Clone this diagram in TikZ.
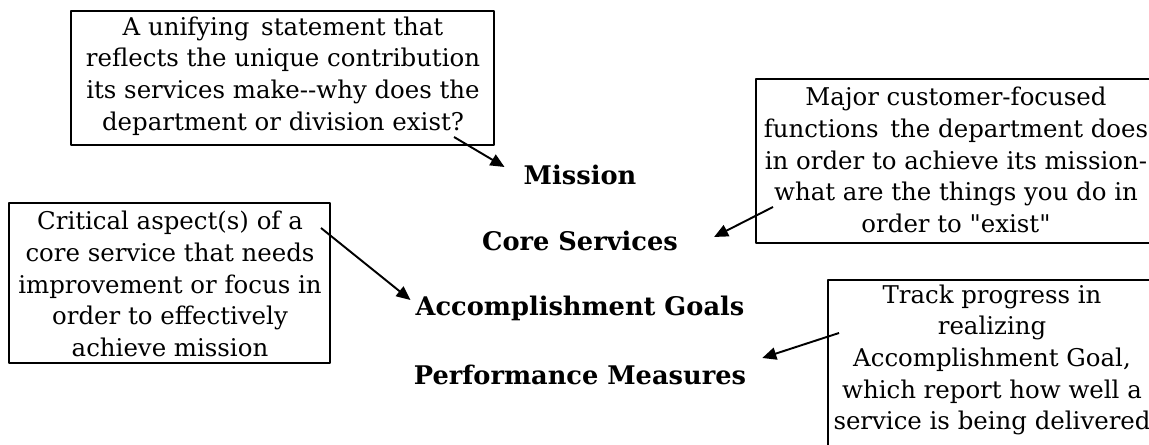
\documentclass[tikz,border=0pt]{standalone}
\usepackage{fontspec}
\setmainfont{DejaVu Serif}
\usetikzlibrary{arrows.meta}
\tikzset{box/.style={line width=0.85pt},
	note/.style={align=center,inner sep=0pt,font=\fontsize{13.9}{18}\selectfont},
	level/.style={font=\fontsize{14.6}{16}\selectfont\bfseries},
	pointer/.style={-{Triangle[length=8pt,width=7pt]},line width=1.1pt}}
\begin{document}
\begin{tikzpicture}[x=0.02cm,y=-0.02cm,line join=round]
	\useasboundingbox (0,0) rectangle (1149,445);
	\clip (0,0) rectangle (1149,445);
	% the four levels
	\node[level] (M) at (580,175) {Mission};
	\node[level] (C) at (580,241) {Core Services};
	\node[level] (A) at (580,308) {Accomplishment Goals};
	\node[level] (P) at (580,375) {Performance Measures};
	% boxes
	\draw[box] (71,11) rectangle (494,145);
	\draw[box] (9,203) rectangle (330,363);
	\draw[box] (756,79) rectangle (1170,243);
	\draw[box] (828,280) rectangle (1170,470);
	\node[note] (TM) at (283,76) {A unifying\, statement that\\reflects the unique contribution\\its services make-{}-why does the\\department or division exist?};
	\node[note] (TA) at (170,284) {Critical aspect(s) of a\\core service that needs\\improvement or focus in\\order to effectively\\achieve mission};
	\node[note] (TC) at (956,160) {Major customer-focused\\functions\, the department does\\in order to achieve its mission-\\what are the things you do in\\order to \textquotedbl exist\textquotedbl};
	\node[note] (TP) at (992,360) {Track progress in\\realizing\\Accomplishment Goal,\\which report how well a\\service is being delivered};
	% arrows
	\coordinate (m1) at (454,137);
	\coordinate (c1) at (773,207);
	\coordinate (a1) at (321,228);
	\coordinate (p1) at (839,333);
	\draw[pointer] (m1) -- ([shift={(-13,-8)}]M.west);
	\draw[pointer] (c1) -- ([shift={(30,-4)}]C.east);
	\draw[pointer] (a1) -- ([shift={(1,-8)}]A.west);
	\draw[pointer] (p1) -- ([shift={(10,-17)}]P.east);
\end{tikzpicture}
\end{document}
